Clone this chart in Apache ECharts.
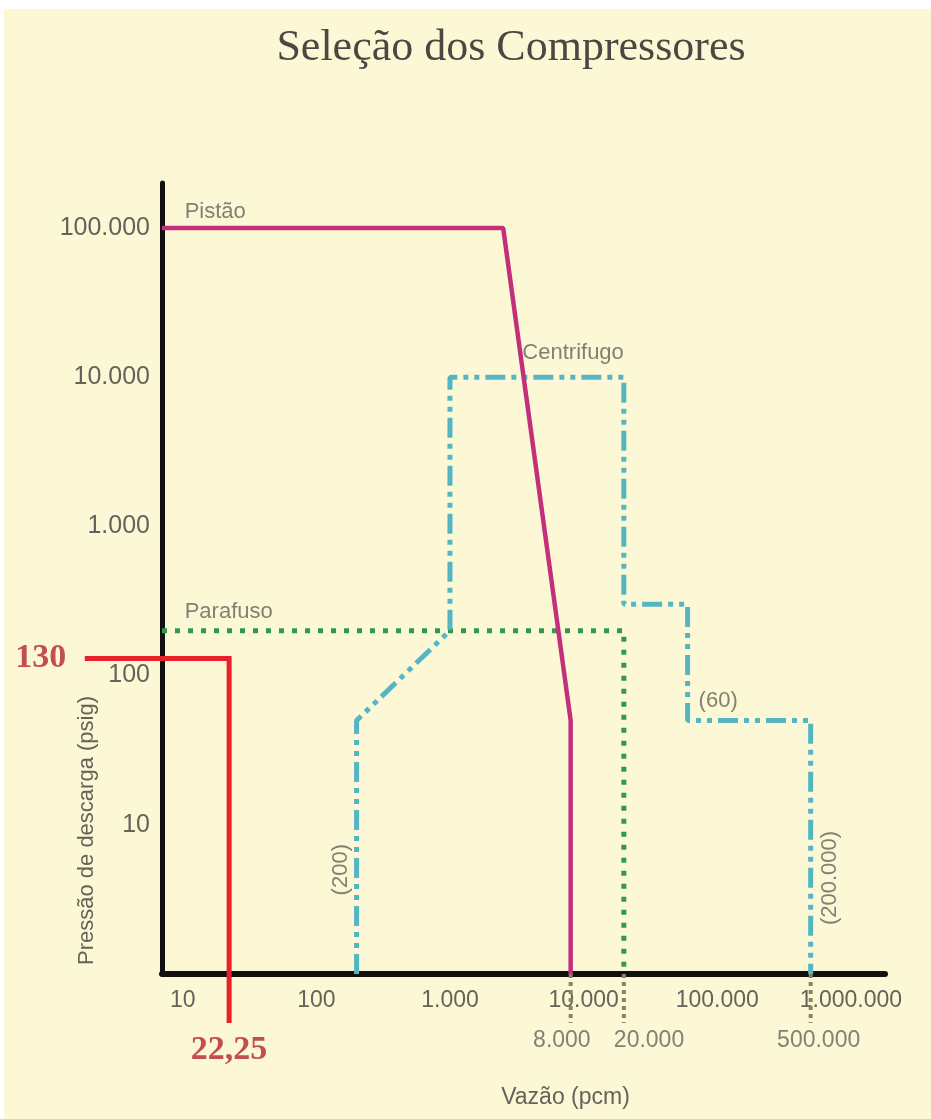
<!DOCTYPE html>
<html><head><meta charset="utf-8">
<script src="https://cdn.jsdelivr.net/npm/echarts@6/dist/echarts.min.js"></script>
<style>html,body{margin:0;padding:0;background:#fff}#c{width:931px;height:1119px}</style>
</head><body><div id="c"></div>
<script>
// ---- data ----
const xTickValues = [10, 100, 1000, 10000, 100000, 1000000];
const yTickValues = [10, 100, 1000, 10000, 100000];
const pistao = [[7, 100000], [2500, 100000], [8000, 50], [8000, 1]];
const centrifugo = [[200, 1], [200, 50], [1000, 200], [1000, 10000], [20000, 10000], [20000, 300], [60000, 300], [60000, 50], [500000, 50], [500000, 1]];
const parafuso = [[7, 200], [20000, 200], [20000, 1]];
const leitura = [[1.85, 130], [22.25, 130], [22.25, 0.47]];
const leituraTextos = ['130', '22,25'];
const limitesVazao = [8000, 20000, 500000];
const limiteFundo = 0.47;
const nomesCurvas = ['Pistão', 'Centrifugo', 'Parafuso', '(60)', '(200)', '(200.000)'];
const ancorasCurvas = [[10, 100000], [20000, 10000], [10, 200], [60000, 50], [200, 5], [500000, 4.4]];

function fmt(v) { return String(Math.round(v)).replace(/\B(?=(\d{3})+(?!\d))/g, '.'); }

const gray = '#64625a';
const font = 'Liberation Sans, Arial, sans-serif';

const labelStyles = [
  {align: 'left', offset: [2, -16]},
  {align: 'right', offset: [0, -24]},
  {align: 'left', offset: [2, -19]},
  {align: 'left', offset: [11, -20]},
  {align: 'center', offset: [0, -16], rotate: 90},
  {align: 'center', offset: [0, 19], rotate: 90}
];
const limitLabelStyles = [
  {align: 'right', offset: [20, 0]},
  {align: 'left', offset: [-10, 0]},
  {align: 'center', offset: [8, 0]}
];

const curveLabelData = nomesCurvas.map((t, i) => ({
  value: ancorasCurvas[i],
  label: Object.assign({show: true, position: 'inside', verticalAlign: 'middle', formatter: t,
    color: gray, fontSize: 22, fontFamily: font}, labelStyles[i])
}));

const limitSeries = limitesVazao.map(v => ({
  type: 'line', data: [[v, 1], [v, limiteFundo]], symbol: 'none', clip: false, silent: true,
  lineStyle: {color: '#8c845e', width: 4, type: [4, 4]}, z: 3
}));

const limitLabelData = limitesVazao.map((v, i) => ({
  value: [v, limiteFundo],
  label: Object.assign({show: true, position: 'inside', verticalAlign: 'top', formatter: fmt(v),
    color: gray, fontSize: 23, fontFamily: font}, limitLabelStyles[i], {offset: [limitLabelStyles[i].offset[0], 6]})
}));

const redLabelData = [
  {value: leitura[0], label: {show: true, position: 'left', distance: 18, formatter: leituraTextos[0]}},
  {value: leitura[2], label: {show: true, position: 'bottom', distance: 10, formatter: leituraTextos[1]}}
];

const chart = echarts.init(document.getElementById('c'));
chart.setOption({
  backgroundColor: '#ffffff',
  animation: false,
  graphic: [{type: 'rect', z: -10, shape: {x: 4, y: 9, width: 931, height: 1119}, style: {fill: '#fcf8d6'}}],
  title: {
    text: 'Seleção dos Compressores', left: 506, top: 21, textAlign: 'center',
    textStyle: {fontFamily: 'Liberation Serif, serif', fontWeight: 'normal', fontSize: 44, color: '#4a4843'}
  },
  grid: {left: 162, top: 183, right: 46, bottom: 145},
  xAxis: {
    type: 'log', logBase: 10, min: 7, max: 1800000,
    name: 'Vazão (pcm)', nameLocation: 'middle', nameGap: 112, nameMoveOverlap: false,
    nameTextStyle: {color: gray, fontSize: 23, fontFamily: font, padding: [0, 0, 0, 84]},
    axisLine: {lineStyle: {color: '#111', width: 6}},
    axisTick: {show: false}, splitLine: {show: false}, minorTick: {show: false},
    axisLabel: {customValues: xTickValues, formatter: v => fmt(v), color: gray, fontSize: 23, fontFamily: font, margin: 15}
  },
  yAxis: {
    type: 'log', logBase: 10, min: 1, max: 200000,
    name: 'Pressão de descarga (psig)', nameLocation: 'middle', nameGap: 64, nameMoveOverlap: false,
    nameTextStyle: {color: gray, fontSize: 22, fontFamily: font, padding: [0, 504, 0, 0]},
    axisLine: {lineStyle: {color: '#111', width: 5}},
    axisTick: {show: false}, splitLine: {show: false}, minorTick: {show: false},
    axisLabel: {customValues: yTickValues, formatter: v => fmt(v), color: gray, fontSize: 25, fontFamily: font, margin: 12}
  },
  series: [
    {name: 'Parafuso', type: 'line', data: parafuso, symbol: 'none', z: 4,
     lineStyle: {color: '#2f9a4c', width: 5, type: [5, 8]}},
    {name: 'Centrifugo', type: 'line', data: centrifugo, symbol: 'none', z: 5,
     lineStyle: {color: '#55b6c3', width: 5, type: [20, 6, 5, 6, 5, 6]}},
    {name: 'Pistão', type: 'line', data: pistao, symbol: 'none', z: 6,
     lineStyle: {color: '#c42f7c', width: 4.5}},
    ...limitSeries,
    {name: 'Leitura', type: 'custom', coordinateSystem: 'cartesian2d', clip: false, z: 8, silent: true,
     data: [leitura[1]],
     renderItem: (params, api) => ({
       type: 'polyline',
       shape: {points: leitura.map(p => api.coord(p))},
       style: {stroke: '#e8202a', lineWidth: 5, fill: null, lineJoin: 'miter'}
     })},
    {type: 'scatter', data: curveLabelData, symbolSize: 1, itemStyle: {color: 'rgba(0,0,0,0)'}, clip: false, silent: true, z: 9},
    {type: 'scatter', data: limitLabelData, symbolSize: 1, itemStyle: {color: 'rgba(0,0,0,0)'}, clip: false, silent: true, z: 9},
    {type: 'scatter', data: redLabelData, symbolSize: 1, itemStyle: {color: 'rgba(0,0,0,0)'}, clip: false, silent: true, z: 9,
     label: {color: '#b3232a', fontSize: 34, fontWeight: 'bold', fontFamily: 'Liberation Serif, serif'}}
  ]
});
</script>
</body></html>
